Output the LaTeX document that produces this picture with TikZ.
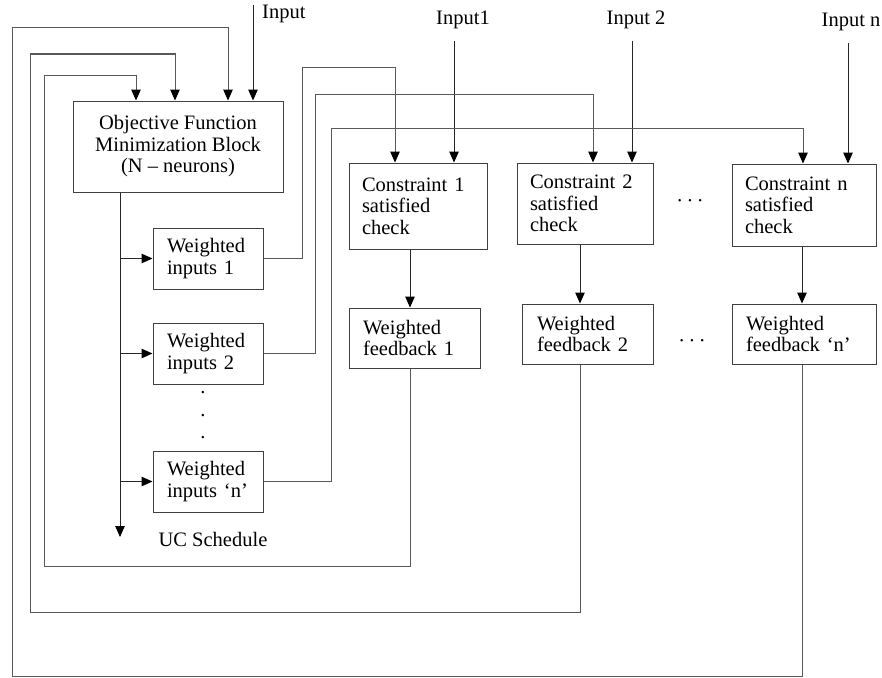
\documentclass[tikz,border=0pt]{standalone}
\usepackage{fontspec}
\setmainfont{Liberation Serif}
\usetikzlibrary{arrows.meta,calc}
\begin{document}
\begin{tikzpicture}[x=1pt,y=-1pt,
  font=\fontsize{20.5}{21.5}\selectfont,
  box/.style={draw=black!75, line width=1pt, inner ysep=0pt},
  arr/.style={-{Triangle[length=11pt,width=9.5pt,color=black]}, line width=1pt, draw=black!85},
  fb/.style={line width=1pt, draw=black!65},
  lab/.style={inner sep=0pt}]
\useasboundingbox (0,0) rectangle (882,677);

% boxes
\node[box, minimum width=210pt, minimum height=91pt, align=center] (obj) at (178,146.5)
  {Objective Function\\Minimization Block\\(N – neurons)};
\node[box, align=left, text width=82pt, inner xsep=14pt, minimum height=61pt] (wi1) at (208,258.5) {Weighted\\inputs 1};
\node[box, align=left, text width=82pt, inner xsep=14pt, minimum height=61pt] (wi2) at (208,353.5) {Weighted\\inputs 2};
\node[box, align=left, text width=82pt, inner xsep=14pt, minimum height=61pt] (win) at (208,481.5) {Weighted\\inputs ‘n’};
\node[box, align=left, text width=112pt, inner xsep=13pt, minimum height=86pt] (c1) at (418,206) {Constraint 1\\satisfied\\check};
\node[box, align=left, text width=110pt, inner xsep=13pt, minimum height=81pt] (c2) at (585,203.5) {Constraint 2\\satisfied\\check};
\node[box, align=left, text width=118pt, inner xsep=13pt, minimum height=82pt] (cn) at (804,205) {Constraint n\\satisfied\\check};
\node[box, align=left, text width=103pt, inner xsep=14pt, minimum height=60pt] (wf1) at (414.5,338) {Weighted\\feedback 1};
\node[box, align=left, text width=101pt, inner xsep=15pt, minimum height=60pt] (wf2) at (587.5,334) {Weighted\\feedback 2};
\node[box, align=left, text width=116pt, inner xsep=14pt, minimum height=60pt] (wfn) at (804,334) {Weighted\\feedback ‘n’};

% labels
\node[lab, anchor=west] (lin) at (262,14) {Input};
\node[lab] (lin1) at (463,20) {Input1};
\node[lab] (lin2) at (636,20) {Input 2};
\node[lab] (linn) at (851,22) {Input n};
\node[lab] (ucl) at (213,539) {UC Schedule};
\node[lab] (dd1) at (690,203) {·\,·\,·};
\node[lab] (dd2) at (692,343) {·\,·\,·};
\node[lab] (vd1) at (203,393) {.};
\node[lab] (vd2) at (203,416) {.};
\node[lab] (vd3) at (203,438) {.};

% coordinates
\coordinate (inA) at (253,5);
\coordinate (in1) at (454,41);
\coordinate (in2) at (632,41);
\coordinate (inN) at (848,43);
\coordinate (uc) at (120,537);
\coordinate (x1) at (410,0);
\coordinate (x2) at (580,0);
\coordinate (xn) at (802,0);
\coordinate (o1) at (136,75);
\coordinate (o2) at (175,54);
\coordinate (o3) at (228,28);
\coordinate (p1) at (302,67);
\coordinate (p2) at (315,94);
\coordinate (p3) at (331,128);
\coordinate (q1) at (395,0);
\coordinate (q2) at (593,0);
\coordinate (q3) at (803,0);

% input arrows
\draw[arr] (inA) -- (inA |- obj.north);
\draw[arr] (in1) -- (in1 |- c1.north);
\draw[arr] (in2) -- (in2 |- c2.north);
\draw[arr] (inN) -- (inN |- cn.north);

% schedule line and branches
\draw[arr] (uc |- obj.south) -- (uc);
\draw[arr] (uc |- wi1.west) -- (wi1.west);
\draw[arr] (uc |- wi2.west) -- (wi2.west);
\draw[arr] (uc |- win.west) -- (win.west);

% constraint to feedback
\draw[arr] (x1 |- c1.south) -- (x1 |- wf1.north);
\draw[arr] (x2 |- c2.south) -- (x2 |- wf2.north);
\draw[arr] (xn |- cn.south) -- (xn |- wfn.north);

% weighted inputs to constraints
\draw[arr, fb] (wi1.east) -| (p1) -| (q1 |- c1.north);
\draw[arr, fb] (wi2.east) -| (p2) -| (q2 |- c2.north);
\draw[arr, fb] (win.east) -| (p3) -| (q3 |- cn.north);

% feedback loops
\draw[arr, fb] (x1 |- wf1.south) |- (44,566) |- (o1) -- (o1 |- obj.north);
\draw[arr, fb] (x2 |- wf2.south) |- (30,612) |- (o2) -- (o2 |- obj.north);
\draw[arr, fb] (xn |- wfn.south) |- (12,676) |- (o3) -- (o3 |- obj.north);
\end{tikzpicture}
\end{document}
